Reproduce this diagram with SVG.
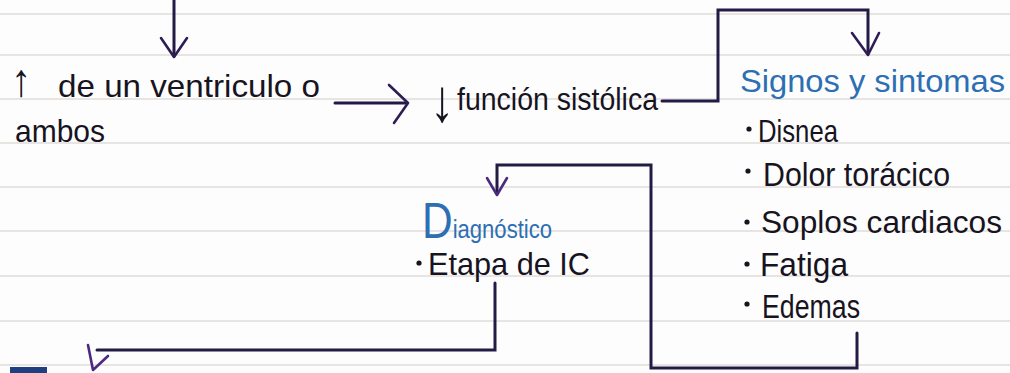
<svg xmlns="http://www.w3.org/2000/svg" width="1010" height="373" viewBox="0 0 1010 373">
<style>
.rule{stroke:#e0dcd9;stroke-width:1.3;fill:none}
.ink{font-family:"Liberation Sans",Arial,sans-serif;fill:#17141f}
.blue{font-family:"Liberation Sans",Arial,sans-serif;fill:#2d6fb3}
.dot{fill:#17141f}
.wire{stroke:#231a45;stroke-width:3;fill:none;stroke-linejoin:miter;stroke-linecap:round}
.head{stroke:#2e1d55;stroke-width:2.6;fill:none;stroke-linecap:round;stroke-linejoin:round}
.purple{stroke:#4a2a80}
</style>
<rect width="1010" height="373" fill="#fdfdfd"/>
<g id="paper">
<path class="rule" d="M0 14H1010M0 55H1010M0 99H1010M0 143H1010M0 187H1010M0 231H1010M0 276H1010M0 321H1010M0 365H1010"/>
<rect x="10" y="367" width="37" height="6" fill="#1f3f80"/>
</g>
<g id="connectors">
<path class="wire" d="M174 0V56"/>
<polyline class="head" points="161,38 174,57 187,38"/>
<path class="wire" d="M335 103H407"/>
<polyline class="head" points="389,85 408,103 394,123"/>
<path class="wire" d="M662 101H718V10H868V54"/>
<polyline class="head" points="852,33 868,55 879,33"/>
<path class="wire" d="M857 333V368H651V165H497V193"/>
<polyline class="head purple" points="487,178 497,195 507,178"/>
<path class="wire" d="M495 283V350H97"/>
<polyline class="head purple" points="88,345 93,370 108,356"/>
</g>
<g id="n-ventriculo">
<text class="ink" x="11" y="96" font-size="46" textLength="20" lengthAdjust="spacingAndGlyphs">↑</text>
<text class="ink" x="58" y="97" font-size="32" textLength="262" lengthAdjust="spacingAndGlyphs">de un ventriculo o</text>
<text class="ink" x="15" y="142" font-size="32" textLength="90" lengthAdjust="spacingAndGlyphs">ambos</text>
</g>
<g id="n-funcion">
<text class="ink" x="430" y="121" font-size="60" textLength="24" lengthAdjust="spacingAndGlyphs">↓</text>
<text class="ink" x="457" y="110" font-size="32" textLength="201" lengthAdjust="spacingAndGlyphs">función sistólica</text>
</g>
<g id="n-signos">
<text class="blue" x="740" y="92" font-size="31" textLength="265" lengthAdjust="spacingAndGlyphs">Signos y sintomas</text>
<circle class="dot" cx="749" cy="129" r="2.6"/>
<text class="ink" x="758" y="142" font-size="32" textLength="80" lengthAdjust="spacingAndGlyphs">Disnea</text>
<circle class="dot" cx="748" cy="171" r="2.6"/>
<text class="ink" x="763" y="186" font-size="33" textLength="187" lengthAdjust="spacingAndGlyphs">Dolor torácico</text>
<circle class="dot" cx="747" cy="222" r="2.6"/>
<text class="ink" x="761" y="233" font-size="31" textLength="241" lengthAdjust="spacingAndGlyphs">Soplos cardiacos</text>
<circle class="dot" cx="747" cy="264" r="2.6"/>
<text class="ink" x="760" y="276" font-size="33" textLength="88" lengthAdjust="spacingAndGlyphs">Fatiga</text>
<circle class="dot" cx="747" cy="304" r="2.6"/>
<text class="ink" x="762" y="318" font-size="33" textLength="98" lengthAdjust="spacingAndGlyphs">Edemas</text>
</g>
<g id="n-diagnostico">
<text class="blue" x="422" y="238" font-size="26" textLength="130" lengthAdjust="spacingAndGlyphs"><tspan font-size="50">D</tspan>iagnóstico</text>
<circle class="dot" cx="419" cy="263" r="2.6"/>
<text class="ink" x="428" y="275" font-size="32" textLength="162" lengthAdjust="spacingAndGlyphs">Etapa de IC</text>
</g>
</svg>
